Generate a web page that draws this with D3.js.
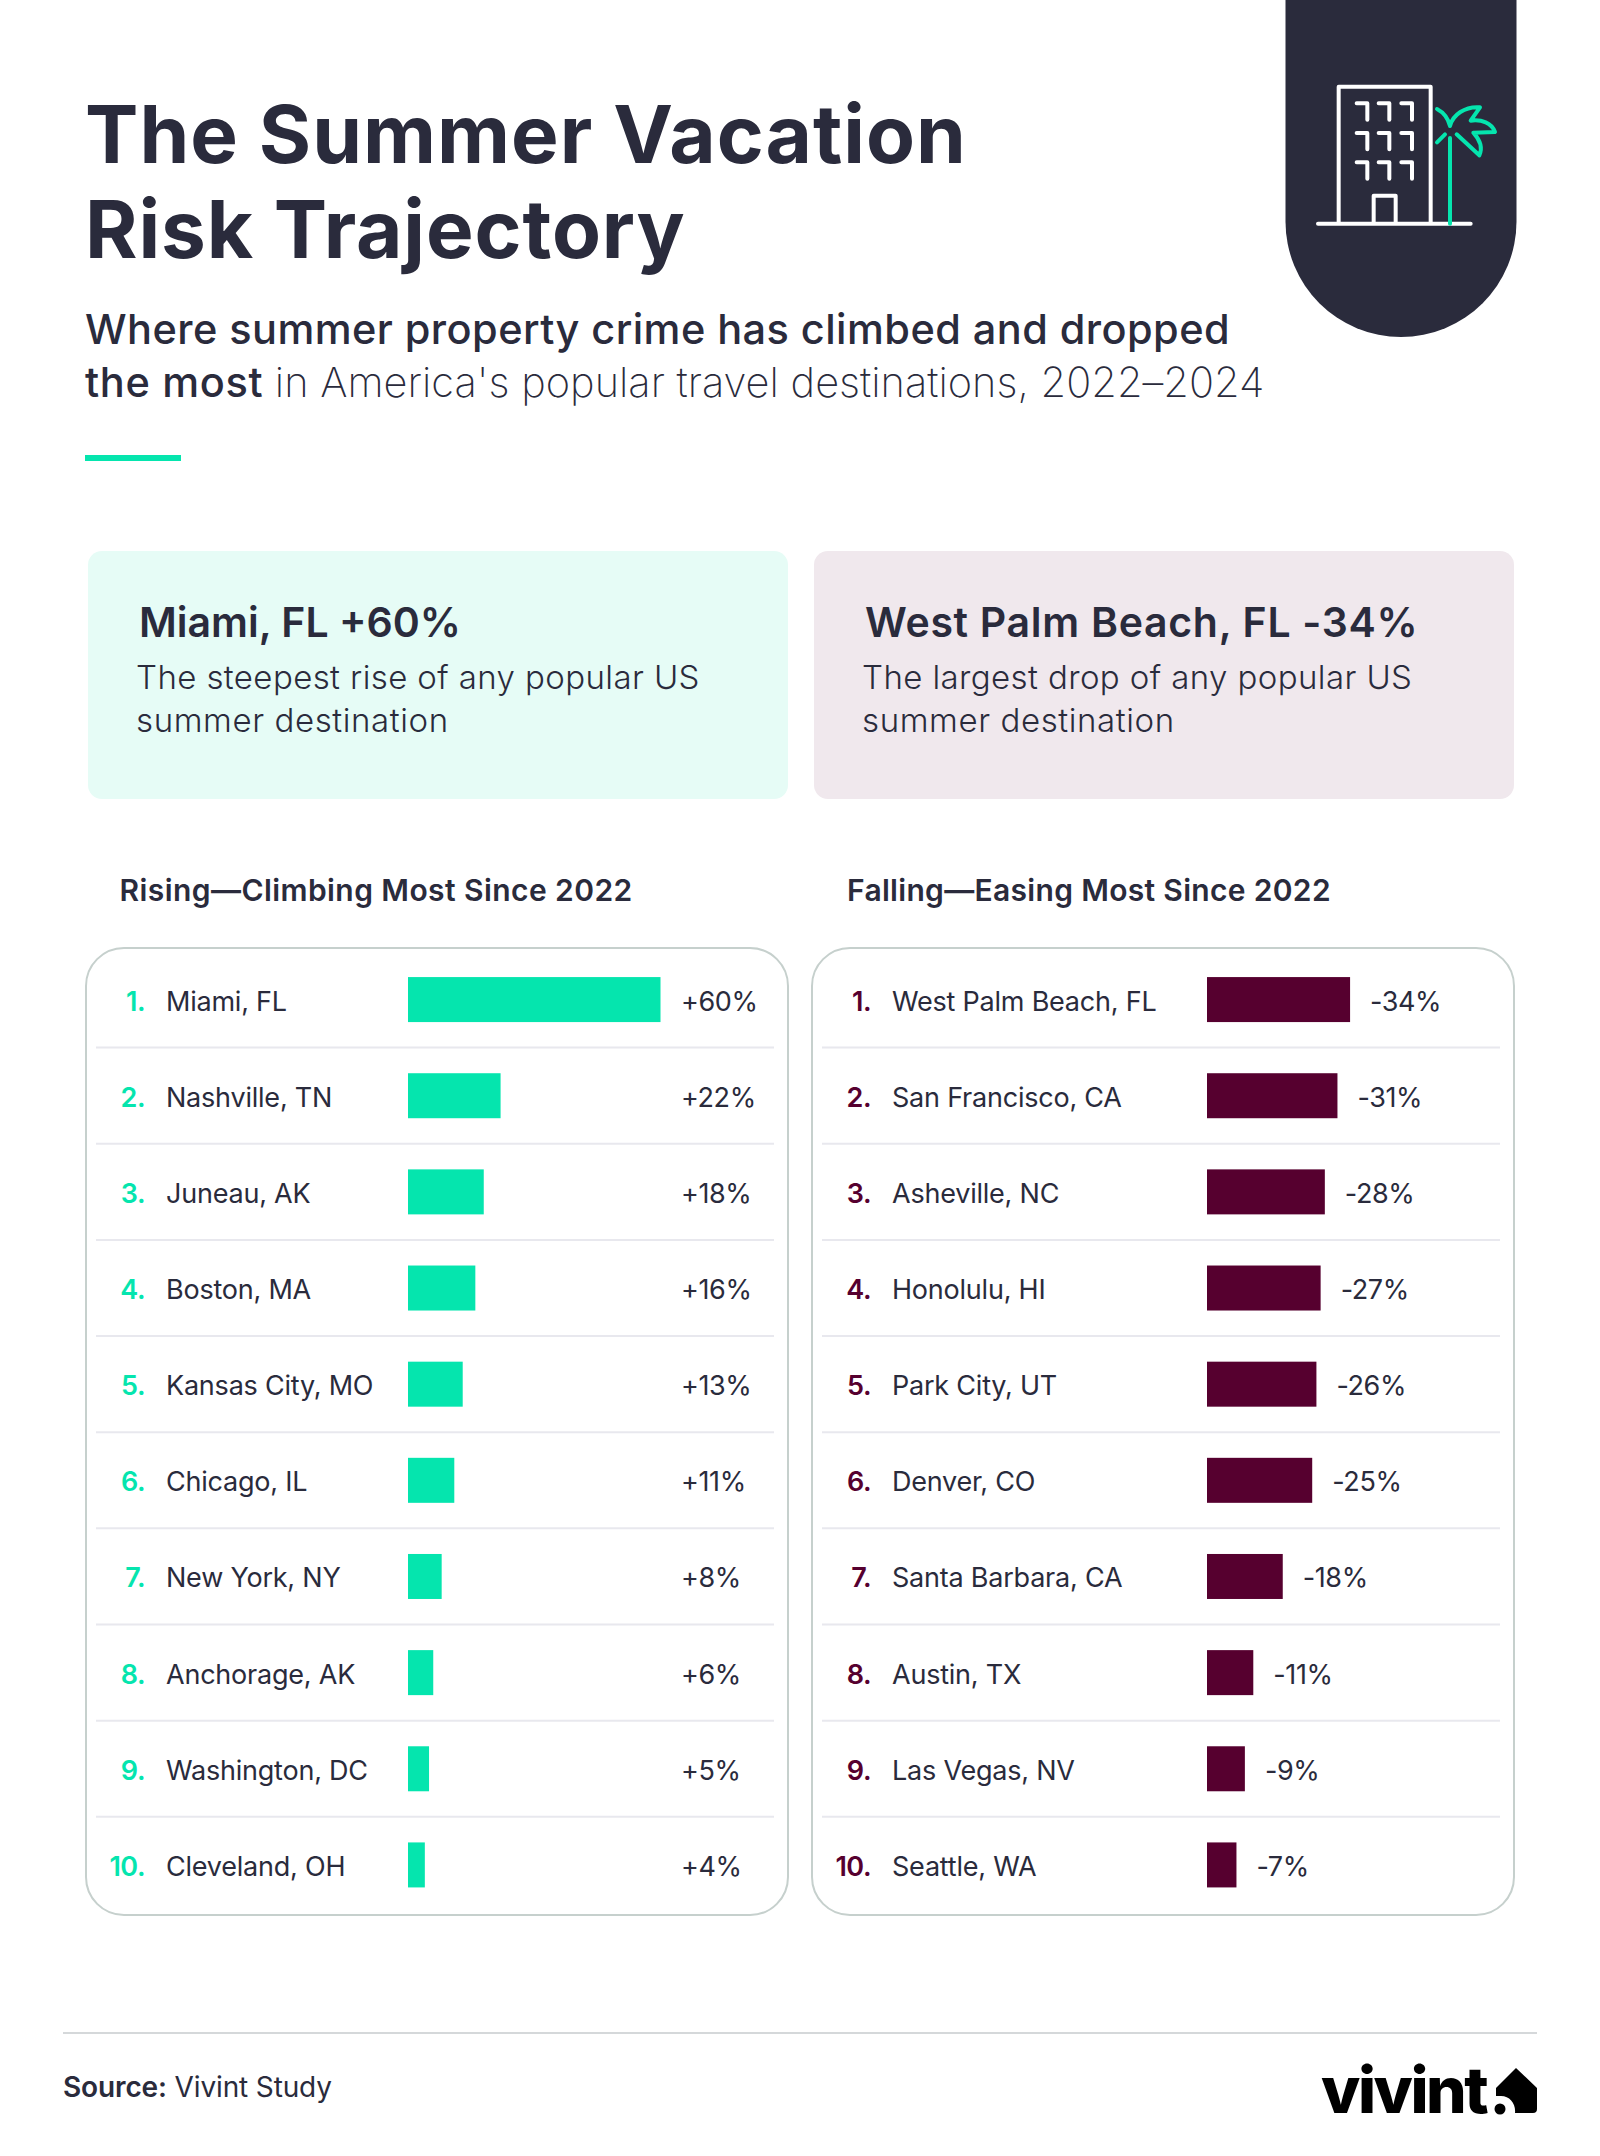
<!DOCTYPE html>
<html>
<head>
<meta charset="utf-8">
<script src="https://cdn.jsdelivr.net/npm/d3@7"></script>
<style>
html,body{margin:0;padding:0;background:#fff}
svg{display:block}
text{font-family:Inter,"Liberation Sans",sans-serif;fill:#2a2b3c}
</style>
</head>
<body>
<div id="chart"></div>
<script>
const risingCities = ["Miami, FL","Nashville, TN","Juneau, AK","Boston, MA","Kansas City, MO","Chicago, IL","New York, NY","Anchorage, AK","Washington, DC","Cleveland, OH"];
const risingValues = [60,22,18,16,13,11,8,6,5,4];
const fallingCities = ["West Palm Beach, FL","San Francisco, CA","Asheville, NC","Honolulu, HI","Park City, UT","Denver, CO","Santa Barbara, CA","Austin, TX","Las Vegas, NV","Seattle, WA"];
const fallingValues = [-34,-31,-28,-27,-26,-25,-18,-11,-9,-7];

const DARK = "#2a2b3c", TEAL = "#05e5ae", MAROON = "#56002f";

const svg = d3.select("#chart").append("svg").attr("width",1600).attr("height",2156);

function label(parent,x,y,size,weight,str,spacing,fill){
  const t = parent.append("text").attr("x",x).attr("y",y)
    .attr("font-size",size).attr("font-weight",weight)
    .attr("letter-spacing",spacing||0).text(str);
  if(fill) t.style("fill",fill);
  return t;
}

// Heading block
label(svg,85,163,80,700,"The Summer Vacation",1.0);
label(svg,85,258,80,700,"Risk Trajectory",0.9);
label(svg,85,344,41.5,500,"Where summer property crime has climbed and dropped",0.43);
const sub = label(svg,85,397,41.5,500,"the most",0.65);
sub.append("tspan").attr("font-weight",250).attr("letter-spacing",0.02).text(" in America's popular travel destinations, 2022–2024");
svg.append("rect").attr("x",85).attr("y",455).attr("width",96).attr("height",6).attr("fill",TEAL);

// Hanging badge with hotel and palm icon
svg.append("path").attr("fill",DARK)
  .attr("d","M1285.5,0H1516.5V221.5A115.5,115.5 0 0 1 1285.5,221.5Z");
const icon = svg.append("g").attr("transform","translate(1260,0) scale(0.33333)")
  .attr("fill","none").attr("stroke-width",12).attr("stroke-linecap","round").attr("stroke-linejoin","round");
icon.append("path").attr("stroke","#fff")
  .attr("d","M174,671H632M236,671V260H512V671M341,671V587H407V671");
[310,399,487].forEach(y=>{
  [[290,322],[356,388],[424,456]].forEach(([a,b])=>{
    icon.append("path").attr("stroke","#fff").attr("d",`M${a},${y}H${b}V${y+49}`);
  });
});
icon.append("path").attr("stroke",TEAL)
  .attr("d","M570,671V414M531,327C552,338 565,358 570,378C578,345 615,318 660,322L632,362C665,358 695,368 705,396L640,398C660,420 668,445 658,466L590,403M555,403L531,427");

// Headline callouts
const callouts = [
  {x:88,w:700,fill:"#e6fcf6",tx:139,sx:136,hs:0,head:"Miami, FL +60%",l1:"The steepest rise of any popular US",l2:"summer destination"},
  {x:814,w:700,fill:"#f0e8ed",tx:865,sx:862,hs:0.7,head:"West Palm Beach, FL -34%",l1:"The largest drop of any popular US",l2:"summer destination"}
];
callouts.forEach(c=>{
  svg.append("rect").attr("x",c.x).attr("y",551).attr("width",c.w).attr("height",248).attr("rx",14).attr("fill",c.fill);
  label(svg,c.tx,637,41,600,c.head,c.hs);
  label(svg,c.sx,689,33,300,c.l1,0.4);
  label(svg,c.sx,732,33,300,c.l2,0.6);
});

// Shared bar length scale and row positions
const barScale = d3.scaleLinear().domain([0,60]).range([0,252.5]);
const rowScale = d3.scaleBand().domain(d3.range(10)).range([951.5,1913]).padding(0);

function panel(cfg){
  label(svg,cfg.titleX,901,30,600,cfg.title,cfg.titleSpacing);
  svg.append("rect").attr("x",cfg.x+1).attr("y",948).attr("width",cfg.w-2).attr("height",967)
    .attr("rx",38).attr("fill","#fff").attr("stroke","#c6d0cd").attr("stroke-width",2);

  const rows = svg.append("g").selectAll("g").data(cfg.cities).join("g")
    .attr("transform",(d,i)=>`translate(0,${rowScale(i)+rowScale.bandwidth()/2})`);

  rows.filter((d,i)=>i<9).append("line")
    .attr("x1",cfg.ruleX1).attr("x2",cfg.ruleX2).attr("y1",48).attr("y2",48)
    .attr("stroke","#e8e8ee").attr("stroke-width",2);

  rows.append("text").attr("x",cfg.rankX).attr("y",11).attr("text-anchor","end")
    .attr("font-size",27).attr("font-weight",600).attr("letter-spacing",-0.5)
    .style("fill",cfg.color).text((d,i)=>`${i+1}.`);

  rows.append("text").attr("x",cfg.nameX).attr("y",11)
    .attr("font-size",27).attr("font-weight",430).attr("letter-spacing",-0.22).text(d=>d);

  rows.append("rect").attr("x",cfg.barX).attr("y",-22.5)
    .attr("width",(d,i)=>barScale(Math.abs(cfg.values[i]))).attr("height",45).attr("fill",cfg.color);

  rows.append("text").attr("x",(d,i)=>cfg.valueX(barScale(Math.abs(cfg.values[i]))+cfg.barX)).attr("y",11)
    .attr("font-size",27).attr("font-weight",430).attr("letter-spacing",-0.4)
    .text((d,i)=>(cfg.values[i]>0?"+":"")+cfg.values[i]+"%");
}

panel({x:85,w:704,titleX:119.5,titleSpacing:0.43,title:"Rising—Climbing Most Since 2022",cities:risingCities,values:risingValues,
  color:TEAL,ruleX1:96,ruleX2:774,rankX:145,nameX:166,barX:408,valueX:()=>681});
panel({x:811,w:704,titleX:847,titleSpacing:0.32,title:"Falling—Easing Most Since 2022",cities:fallingCities,values:fallingValues,
  color:MAROON,ruleX1:822,ruleX2:1500,rankX:871,nameX:892,barX:1207,valueX:e=>e+20});

// Footer
svg.append("line").attr("x1",63).attr("x2",1537).attr("y1",2033).attr("y2",2033).attr("stroke","#d5d8da").attr("stroke-width",2);
const src = label(svg,63,2097,28,600,"Source:",-0.13);
src.append("tspan").attr("font-weight",400).text(" Vivint Study");

// Brand mark
const brand = label(svg,1321,2113,64,800,"vivint",-2.5,"#000");
svg.append("path").attr("fill","#000")
  .attr("d","M1516,2068L1537,2088V2109Q1537,2113 1533,2113H1515C1516,2104 1510,2096 1501,2096H1496V2088Z");
svg.append("circle").attr("cx",1500).attr("cy",2109).attr("r",5.5).attr("fill","#000");
</script>
</body>
</html>
